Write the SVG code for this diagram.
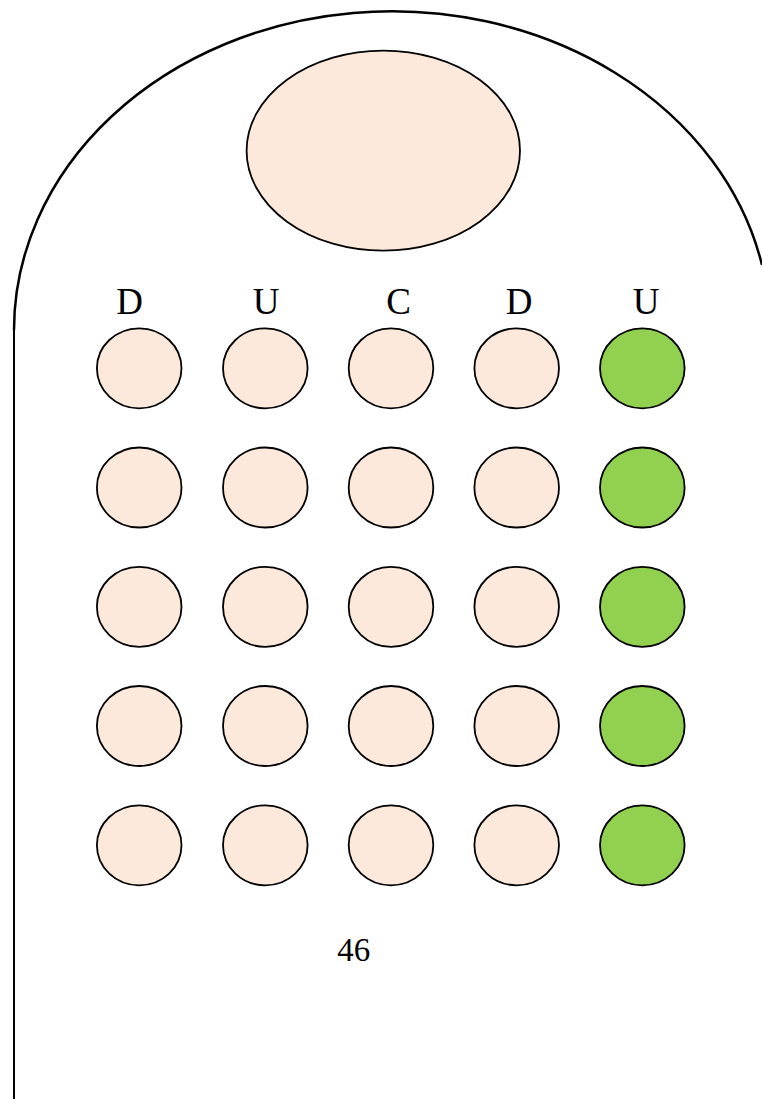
<svg xmlns="http://www.w3.org/2000/svg" width="762" height="1099" viewBox="0 0 762 1099">
<style>
.outline{fill:none;stroke:#000;stroke-width:2.5}
.edge{fill:none;stroke:#000;stroke-width:2}
.c{fill:#FCE9DB;stroke:#000;stroke-width:1.8}
.g{fill:#92D050;stroke:#000;stroke-width:1.8}
.lbl{font-family:"Liberation Serif",serif;font-size:37px;text-anchor:middle;fill:#000}
.num{font-family:"Liberation Serif",serif;font-size:33px;text-anchor:middle;fill:#000}
</style>
<rect width="762" height="1099" fill="#fff"/>
<g id="connectors">
<path class="outline" d="M14,330 A378,319 0 0 1 762,265"/>
<line class="edge" x1="14" y1="330" x2="14" y2="1099"/>
</g>
<g id="head"><ellipse class="c" cx="383.3" cy="150.7" rx="136.7" ry="100"/></g>
<g id="labels">
<text class="lbl" x="129.7" y="314">D</text>
<text class="lbl" x="266" y="314">U</text>
<text class="lbl" x="398.7" y="314">C</text>
<text class="lbl" x="519" y="314">D</text>
<text class="lbl" x="646" y="314">U</text>
</g>
<g id="r1">
<ellipse class="c" cx="139.2" cy="368.3" rx="42.3" ry="40"/>
<ellipse class="c" cx="265.3" cy="368.3" rx="42.3" ry="40"/>
<ellipse class="c" cx="391" cy="368.3" rx="42.3" ry="40"/>
<ellipse class="c" cx="516.7" cy="368.3" rx="42.3" ry="40"/>
<ellipse class="g" cx="642.3" cy="368.3" rx="42.3" ry="40"/>
</g>
<g id="r2">
<ellipse class="c" cx="139.2" cy="487.5" rx="42.3" ry="40"/>
<ellipse class="c" cx="265.3" cy="487.5" rx="42.3" ry="40"/>
<ellipse class="c" cx="391" cy="487.5" rx="42.3" ry="40"/>
<ellipse class="c" cx="516.7" cy="487.5" rx="42.3" ry="40"/>
<ellipse class="g" cx="642.3" cy="487.5" rx="42.3" ry="40"/>
</g>
<g id="r3">
<ellipse class="c" cx="139.2" cy="606.8" rx="42.3" ry="40"/>
<ellipse class="c" cx="265.3" cy="606.8" rx="42.3" ry="40"/>
<ellipse class="c" cx="391" cy="606.8" rx="42.3" ry="40"/>
<ellipse class="c" cx="516.7" cy="606.8" rx="42.3" ry="40"/>
<ellipse class="g" cx="642.3" cy="606.8" rx="42.3" ry="40"/>
</g>
<g id="r4">
<ellipse class="c" cx="139.2" cy="726" rx="42.3" ry="40"/>
<ellipse class="c" cx="265.3" cy="726" rx="42.3" ry="40"/>
<ellipse class="c" cx="391" cy="726" rx="42.3" ry="40"/>
<ellipse class="c" cx="516.7" cy="726" rx="42.3" ry="40"/>
<ellipse class="g" cx="642.3" cy="726" rx="42.3" ry="40"/>
</g>
<g id="r5">
<ellipse class="c" cx="139.2" cy="845.3" rx="42.3" ry="40"/>
<ellipse class="c" cx="265.3" cy="845.3" rx="42.3" ry="40"/>
<ellipse class="c" cx="391" cy="845.3" rx="42.3" ry="40"/>
<ellipse class="c" cx="516.7" cy="845.3" rx="42.3" ry="40"/>
<ellipse class="g" cx="642.3" cy="845.3" rx="42.3" ry="40"/>
</g>
<g id="page"><text class="num" x="353.7" y="961">46</text></g>
</svg>
